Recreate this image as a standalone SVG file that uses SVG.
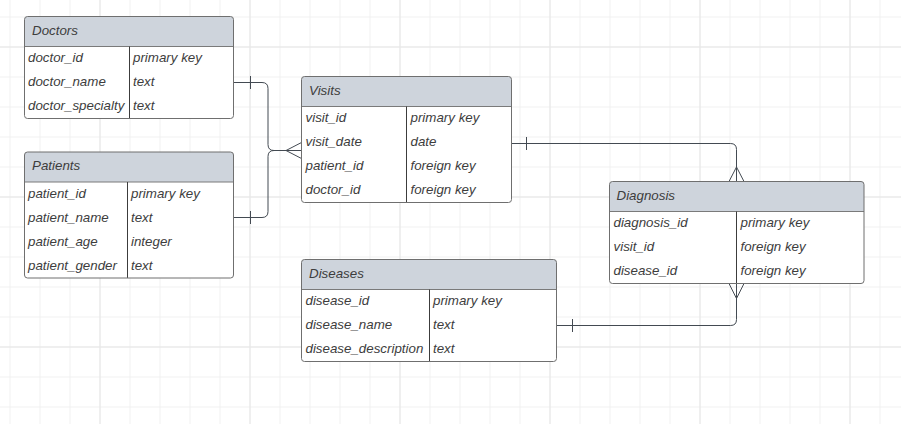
<svg xmlns="http://www.w3.org/2000/svg" width="901" height="424" viewBox="0 0 901 424">
<defs>
<pattern id="grid" x="9.5" y="16.5" width="30" height="30" patternUnits="userSpaceOnUse">
<path d="M0.5,0 V30 M0,0.5 H30" fill="none" stroke="#f0f0f0" stroke-width="1"/>
</pattern>
<pattern id="gridM" x="99.5" y="46.5" width="150" height="150" patternUnits="userSpaceOnUse">
<path d="M0.5,0 V150 M0,0.5 H150" fill="none" stroke="#e6e6e6" stroke-width="1"/>
</pattern>
</defs>
<style>
.box{fill:#fff;stroke:none}
.hdr{fill:#ced4dc}
.frame{fill:none;stroke:#6f6f6f;stroke-width:1}
.sep{stroke:#7a7a7a;stroke-width:1}
.div{stroke:#3c3c3c;stroke-width:1}
text{font-family:"Liberation Sans",Arial,sans-serif;font-size:13.33px;font-style:italic;fill:#3d3d3d}
.conn path{fill:none;stroke:#434a52;stroke-width:1}
</style>
<rect width="901" height="424" fill="#fff"/>
<rect width="901" height="424" fill="url(#grid)"/>
<rect width="901" height="424" fill="url(#gridM)"/>

<g id="connectors" class="conn">
<path d="M234,82.5 H262 Q268,82.5 268,88.5 V144.5 Q268,150.5 274,150.5 H301.5"/>
<path d="M250.5,76 V89"/>
<path d="M234,217.5 H262 Q268,217.5 268,211.5 V156.5 Q268,150.5 274,150.5"/>
<path d="M250.5,211 V224"/>
<path d="M301.5,142.5 L286,150.5 L301.5,158.5"/>
<path d="M511.5,143.5 H730.5 Q736.5,143.5 736.5,149.5 V181.5"/>
<path d="M526.5,137 V150"/>
<path d="M729,181.5 L736.5,167 L744,181.5"/>
<path d="M556.5,325.5 H730.5 Q736.5,325.5 736.5,319.5 V283.5"/>
<path d="M572.5,319 V332"/>
<path d="M729,283.5 L736.5,298.5 L744,283.5"/>
</g>

<g id="doctors">
<rect class="box" x="24.5" y="16.5" width="209" height="102" rx="3"/>
<path class="hdr" d="M24.5,46.5 V19.5 Q24.5,16.5 27.5,16.5 H230.5 Q233.5,16.5 233.5,19.5 V46.5 Z"/>
<line class="sep" x1="24.5" y1="46.5" x2="233.5" y2="46.5"/>
<line class="div" x1="129.5" y1="46.5" x2="129.5" y2="118.5"/>
<rect class="frame" x="24.5" y="16.5" width="209" height="102" rx="3"/>
<text x="32" y="35">Doctors</text>
<text x="28" y="62">doctor_id</text><text x="133" y="62">primary key</text>
<text x="28" y="86">doctor_name</text><text x="133" y="86">text</text>
<text x="28" y="110">doctor_specialty</text><text x="133" y="110">text</text>
</g>

<g id="patients">
<rect class="box" x="24.5" y="152" width="209" height="126" rx="3"/>
<path class="hdr" d="M24.5,182 V155 Q24.5,152 27.5,152 H230.5 Q233.5,152 233.5,155 V182 Z"/>
<line class="sep" x1="24.5" y1="182" x2="233.5" y2="182"/>
<line class="div" x1="127.5" y1="182" x2="127.5" y2="278"/>
<rect class="frame" x="24.5" y="152" width="209" height="126" rx="3"/>
<text x="32" y="170">Patients</text>
<text x="28" y="197.5">patient_id</text><text x="131" y="197.5">primary key</text>
<text x="28" y="221.5">patient_name</text><text x="131" y="221.5">text</text>
<text x="28" y="245.5">patient_age</text><text x="131" y="245.5">integer</text>
<text x="28" y="269.5">patient_gender</text><text x="131" y="269.5">text</text>
</g>

<g id="visits">
<rect class="box" x="301.5" y="76.5" width="210" height="126" rx="3"/>
<path class="hdr" d="M301.5,106.5 V79.5 Q301.5,76.5 304.5,76.5 H508.5 Q511.5,76.5 511.5,79.5 V106.5 Z"/>
<line class="sep" x1="301.5" y1="106.5" x2="511.5" y2="106.5"/>
<line class="div" x1="406.5" y1="106.5" x2="406.5" y2="202.5"/>
<rect class="frame" x="301.5" y="76.5" width="210" height="126" rx="3"/>
<text x="309" y="95">Visits</text>
<text x="305.5" y="122">visit_id</text><text x="410.5" y="122">primary key</text>
<text x="305.5" y="146">visit_date</text><text x="410.5" y="146">date</text>
<text x="305.5" y="170">patient_id</text><text x="410.5" y="170">foreign key</text>
<text x="305.5" y="194">doctor_id</text><text x="410.5" y="194">foreign key</text>
</g>

<g id="diagnosis">
<rect class="box" x="609.5" y="181.5" width="254.5" height="102" rx="3"/>
<path class="hdr" d="M609.5,211.5 V184.5 Q609.5,181.5 612.5,181.5 H861 Q864,181.5 864,184.5 V211.5 Z"/>
<line class="sep" x1="609.5" y1="211.5" x2="864" y2="211.5"/>
<line class="div" x1="736.5" y1="211.5" x2="736.5" y2="283.5"/>
<rect class="frame" x="609.5" y="181.5" width="254.5" height="102" rx="3"/>
<text x="616.5" y="200">Diagnosis</text>
<text x="613.5" y="227">diagnosis_id</text><text x="740.5" y="227">primary key</text>
<text x="613.5" y="251">visit_id</text><text x="740.5" y="251">foreign key</text>
<text x="613.5" y="275">disease_id</text><text x="740.5" y="275">foreign key</text>
</g>

<g id="diseases">
<rect class="box" x="301.5" y="259.5" width="255" height="102" rx="3"/>
<path class="hdr" d="M301.5,289.5 V262.5 Q301.5,259.5 304.5,259.5 H553.5 Q556.5,259.5 556.5,262.5 V289.5 Z"/>
<line class="sep" x1="301.5" y1="289.5" x2="556.5" y2="289.5"/>
<line class="div" x1="429.5" y1="289.5" x2="429.5" y2="361.5"/>
<rect class="frame" x="301.5" y="259.5" width="255" height="102" rx="3"/>
<text x="309" y="278">Diseases</text>
<text x="305.5" y="305">disease_id</text><text x="433" y="305">primary key</text>
<text x="305.5" y="329">disease_name</text><text x="433" y="329">text</text>
<text x="305.5" y="353">disease_description</text><text x="433" y="353">text</text>
</g>
</svg>
